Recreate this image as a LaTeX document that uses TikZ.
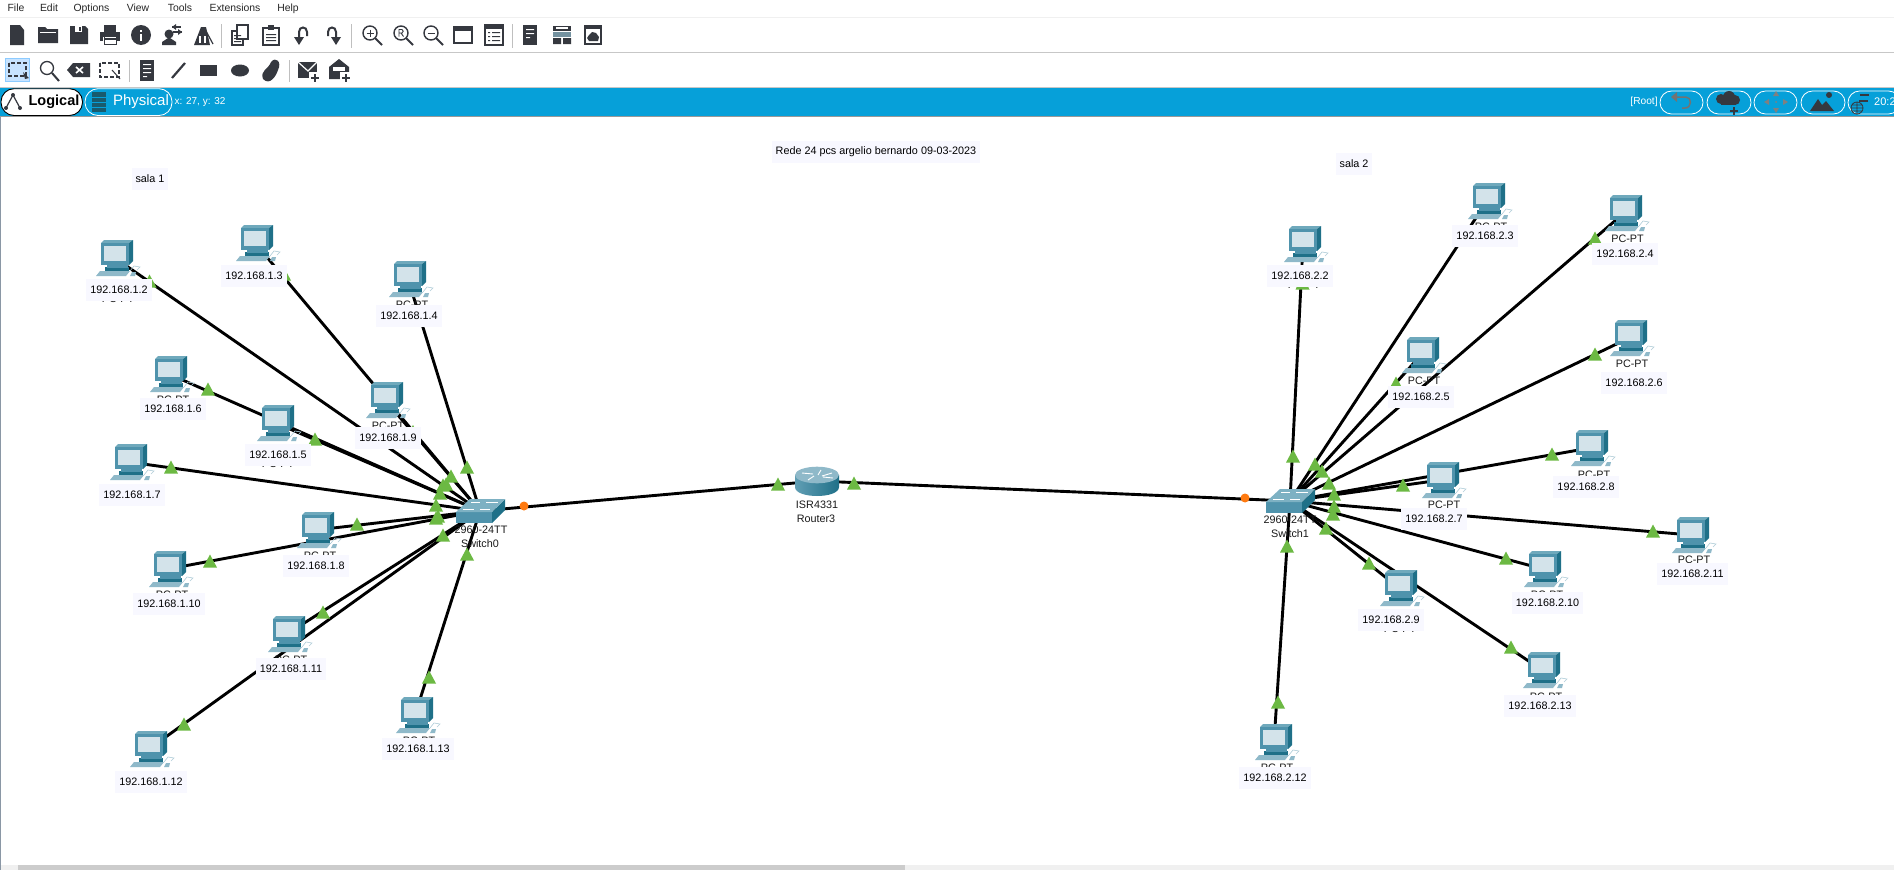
\documentclass[tikz,border=0pt]{standalone}
\usepackage{fontspec}
\setmainfont{Liberation Sans}
\definecolor{ic}{HTML}{35383F}
\definecolor{barblue}{HTML}{06A0D9}
\definecolor{lblbg}{HTML}{F8F8FF}
\definecolor{trig}{HTML}{6CB943}
\definecolor{orng}{HTML}{FF7A10}
\definecolor{mfront}{HTML}{4F93AC}
\definecolor{mside}{HTML}{1F7088}
\definecolor{mtop}{HTML}{6FA9BC}
\definecolor{mscr}{HTML}{D3E3EA}
\definecolor{kbd}{HTML}{8FB9C9}
\definecolor{frameg}{HTML}{8A97A5}
\tikzset{
 link/.style={black,line width=2.9pt},
 iplabel/.style={fill=lblbg,text=black,inner xsep=4pt,inner ysep=0pt,minimum height=22pt,font=\fontsize{10.8}{12}\selectfont},
 devtext/.style={inner sep=0pt,text=black!90,font=\fontsize{10.8}{12}\selectfont},
 menuitem/.style={inner sep=0pt,anchor=base,text=black!85,font=\fontsize{10.4}{12}\selectfont},
 hub/.style={inner sep=0pt,minimum size=0pt},
 sep/.style={black!25,line width=.8pt},
 capsule/.style={draw=white,line width=.8pt,rounded corners=11.5pt},
 tri/.pic={\fill[trig] (-7,6.5)--(0,-6.5)--(7,6.5)--cycle;},
 pcicon/.pic={
  \fill[kbd] (-5,36)--(-1,31)--(29,31)--(25,36)--cycle;
  \fill[mside] (4,27)--(28,27)--(28,31)--(4,31)--cycle;
  \fill[mfront] (6,24)--(27,24)--(27,28)--(6,28)--cycle;
  \fill[mtop] (0,3)--(3,0)--(32,0)--(28,3)--cycle;
  \fill[mside] (28,3)--(32,0)--(32,21)--(28,25)--cycle;
  \fill[mfront] (0,3) rectangle (28,25);
  \fill[mscr] (3,5.5) rectangle (25,21);
  \draw[kbd!70,line width=.6pt] (29,31)--(33,26)--(39,27)--(36,30);
  \fill[kbd] (29,36)--(31,32)--(35,32)--(34,36)--cycle;
 },
 switchicon/.pic={
  \fill[mside] (36,13)--(49,0)--(49,11)--(36,24)--cycle;
  \fill[mfront] (0,13) rectangle (36,24);
  \fill[mtop!90!white] (0,13)--(14,0)--(49,0)--(36,13)--cycle;
  \draw[white,line width=.7pt] (15,3)--(24,3) (30,3)--(42,3) (7,10)--(18,10) (24,10)--(34,10);
 },
 routericon/.pic={
  \shade[left color=mfront!90,middle color=white!85!mfront,right color=mside] (-22,-6)--(-22,6) .. controls (-22,18) and (22,18) .. (22,6)--(22,-6)--cycle;
  \fill[kbd] (0,-6) ellipse (22 and 8.3);
  \draw[white,line width=.9pt] (-15,-8)--(-4,-7) (15,-8)--(5,-5) (-9,-1)--(-3,-5) (4,-11)--(1,-6) (6,-4)--(16,-3);
 },
}
\begin{document}
\begin{tikzpicture}[x=1pt,y=-1pt]
\useasboundingbox (0,0) rectangle (1894,870);
\path[clip] (0,0) rectangle (1894,870);
\fill[white] (0,0) rectangle (1894,870);

% ---- menu bar
\draw[black!6,line width=1pt] (0,17.5)--(1894,17.5);
\foreach \mtxt/\mxp in {File/16,Edit/49,Options/91.5,View/138,Tools/180,Extensions/235,Help/288}
  \node[menuitem] (menu\mtxt) at (\mxp,12) {\mtxt};

% ---- toolbar row 1
\begin{scope}[shift={(17,35)}]
 \fill[ic] (-7,-10)--(3,-10)--(7,-5)--(7,10)--(-7,10)--cycle;
\end{scope}
\begin{scope}[shift={(48,35)}]
 \fill[ic] (-10,-8)--(-3,-8)--(-1,-6)--(10,-6)--(10,8)--(-10,8)--cycle;
 \fill[white] (-8,-3) rectangle (8,-2);
\end{scope}
\begin{scope}[shift={(79,35)}]
 \fill[ic] (-9,-9)--(6,-9)--(9,-6)--(9,9)--(-9,9)--cycle;
 \fill[white] (-4,-9) rectangle (3,-3);
 \fill[ic] (0,-8) rectangle (2,-4);
\end{scope}
\begin{scope}[shift={(110,35)}]
 \fill[ic] (-6,-10) rectangle (6,-3);
 \fill[ic] (-10,-3) rectangle (10,6);
 \fill[white] (-7,2) rectangle (7,10);
 \fill[ic] (-6,3) rectangle (6,4.5);
 \draw[ic,line width=1pt] (-6,2)--(-6,9.5)--(6,9.5)--(6,2);
\end{scope}
\begin{scope}[shift={(141,35)}]
 \fill[ic] (0,0) circle (10);
 \fill[white] (-1,-1) rectangle (1,5.5);
 \fill[white] (-1,-5) rectangle (1,-3);
\end{scope}
\begin{scope}[shift={(172,35)}]
 \fill[ic] (-3,-1) circle (4.5);
 \fill[ic] (-10,10)--(-10,7)--(-4,3)--(-2,3)--(4,7)--(4,10)--cycle;
 \draw[ic,line width=1.2pt] (0,-8)--(9,-8) (1,-3)--(10,-3);
 \fill[ic] (4,-11)--(0,-8)--(4,-5)--cycle;
 \fill[ic] (6,-6)--(10,-3)--(6,0)--cycle;
\end{scope}
\begin{scope}[shift={(203,35)}]
 \fill[ic] (-9,10)--(-2,-8)--(3,-8)--(7,10)--cycle;
 \fill[white] (-4,1) rectangle (-2,8);
 \fill[white] (1,1) rectangle (2.5,8);
 \draw[ic,line width=1.2pt] (3,-4)--(10,9);
\end{scope}
\draw[sep] (221,24)--(221,48);
\begin{scope}[shift={(240,35)}]
 \draw[ic,line width=1.3pt] (-8,-4) rectangle (3,10);
 \fill[white] (-3,-10) rectangle (8,4);
 \draw[ic,line width=1.3pt] (-3,-10) rectangle (8,4);
 \fill[ic] (-6,0) rectangle (1,1) (-6,3) rectangle (1,4) (-6,6) rectangle (1,7);
\end{scope}
\begin{scope}[shift={(271,35)}]
 \draw[ic,line width=1.3pt] (-8,-7) rectangle (8,10);
 \fill[ic] (-3,-10) rectangle (3,-5);
 \fill[ic] (-5,-1) rectangle (5,0) (-5,2) rectangle (5,3) (-5,5) rectangle (5,6);
\end{scope}
\begin{scope}[shift={(302,35)}]
 \draw[ic,line width=2pt] (-3,4)--(-3,-3) .. controls (-3,-9) and (5,-9) .. (5,-3)--(5,1);
 \fill[ic] (-8,2)--(2,2)--(-3,10)--cycle;
\end{scope}
\begin{scope}[shift={(333,35)}]
 \draw[ic,line width=2pt] (3,4)--(3,-3) .. controls (3,-9) and (-5,-9) .. (-5,-3)--(-5,1);
 \fill[ic] (-2,2)--(8,2)--(3,10)--cycle;
\end{scope}
\draw[sep] (351,24)--(351,48);
\foreach \zx/\zk in {370/0,401/1,431/2}{
 \begin{scope}[shift={(\zx,33)}]
  \draw[ic,line width=1.4pt] (0,0) circle (7);
  \draw[ic,line width=2pt] (5,5)--(12,12);
  \ifnum\zk=0 \draw[ic,line width=1pt] (0,-3.5)--(0,3.5) (-3.5,0)--(3.5,0);\fi
  \ifnum\zk=1 \draw[ic,line width=.9pt] (-2,3.5)--(-2,-3.5)--(1,-3.5)--(2.2,-1.8)--(1,0)--(-2,0) (0,0)--(2.5,3.5);\fi
  \ifnum\zk=2 \draw[ic,line width=1pt] (-3.5,0)--(3.5,0);\fi
 \end{scope}}
\begin{scope}[shift={(463,35)}]
 \draw[ic,line width=1.4pt] (-9,-8) rectangle (9,8);
 \fill[ic] (-9,-8) rectangle (9,-4);
\end{scope}
\begin{scope}[shift={(494,35)}]
 \draw[ic,line width=1.4pt] (-9,-10) rectangle (9,10);
 \fill[ic] (-9,-10) rectangle (9,-6);
 \fill[ic] (-6,-3) rectangle (-4,-2) (-2,-3) rectangle (6,-2) (-6,1) rectangle (-4,2) (-2,1) rectangle (6,2) (-6,5) rectangle (-4,6) (-2,5) rectangle (6,6);
\end{scope}
\draw[sep] (512.5,24)--(512.5,48);
\begin{scope}[shift={(530,35)}]
 \fill[ic] (-7,-10) rectangle (7,10);
 \fill[white] (-4,-6) rectangle (4,-5) (-4,-2) rectangle (4,-1) (-4,2) rectangle (0,3);
\end{scope}
\begin{scope}[shift={(562,35)}]
 \fill[ic] (-9,-9) rectangle (9,-4);
 \fill[kbd!70!ic] (-9,-3) rectangle (9,2);
 \fill[ic] (-9,3) rectangle (-1,9) (1,3) rectangle (9,9);
 \fill[white] (-6,-8) rectangle (6,-6);
\end{scope}
\begin{scope}[shift={(593,35)}]
 \fill[ic] (-9,-10) rectangle (9,10);
 \fill[white] (-7,-6) rectangle (7,8);
 \fill[ic] (-4,6)--(-6,3)--(-4,0)--(-1,-3)--(3,-2)--(6,2)--(5,6)--cycle;
\end{scope}

\draw[black!22,line width=1pt] (0,52)--(1894,52);

% ---- toolbar row 2
\fill[blue!50!cyan!22,draw=blue!45!cyan!45] (5.5,58.5) rectangle (29.5,81.5);
\draw[ic,line width=1.3pt,dash pattern=on 4pt off 2pt] (9,63) rectangle (26,76);
\fill[ic] (23,72)--(29,78)--(25,79)--cycle;
\begin{scope}[shift={(48,70)}]
 \draw[ic,line width=1.3pt] (-1,-2) circle (6.5);
 \draw[ic,line width=2pt] (4,3)--(11,11);
\end{scope}
\begin{scope}[shift={(79,70)}]
 \fill[ic] (-12,0)--(-6,-7)--(11,-7)--(11,7)--(-6,7)--cycle;
 \draw[white,line width=1.6pt] (-3,-3)--(4,3) (-3,3)--(4,-3);
\end{scope}
\begin{scope}[shift={(110,70)}]
 \draw[ic,line width=1.2pt,dash pattern=on 4pt off 2pt] (-10,-7) rectangle (9,7);
 \draw[ic,line width=1pt] (2,0)--(10,9);
\end{scope}
\draw[sep] (129,60)--(129,82);
\begin{scope}[shift={(147,70)}]
 \fill[ic] (-7,-10) rectangle (7,11);
 \fill[white] (-4,-6) rectangle (4,-5) (-4,-2) rectangle (4,-1) (-4,2) rectangle (4,3) (-4,6) rectangle (0,7);
\end{scope}
\draw[ic,line width=2.2pt] (172,78)--(185,63);
\fill[ic] (200,65) rectangle (217,76);
\fill[ic] (240,70.5) ellipse (9 and 6);
\fill[ic] (263,79) .. controls (260,70) and (268,70) .. (271,62) .. controls (276,56) and (282,62) .. (278,70) .. controls (276,76) and (270,86) .. (263,79) -- cycle;
\draw[sep] (289,60)--(289,82);
\begin{scope}[shift={(308,70)}]
 \fill[ic] (-10,-8) rectangle (9,8);
 \draw[white,line width=1.2pt] (-10,-8)--(0,1)--(9,-8);
 \fill[white] (1,2) rectangle (12,13);
 \draw[ic,line width=2pt] (7,4)--(7,12) (3,8)--(11,8);
\end{scope}
\begin{scope}[shift={(339,70)}]
 \fill[ic] (-10,-3)--(0,-11)--(10,-3)--(10,9)--(-10,9)--cycle;
 \fill[white] (-6,-3) rectangle (6,1);
 \fill[white] (1,2) rectangle (12,13);
 \draw[ic,line width=2pt] (7,4)--(7,12) (3,8)--(11,8);
\end{scope}

\draw[black!22,line width=1pt] (0,87.2)--(1894,87.2);

% ---- blue bar
\fill[barblue] (0,88) rectangle (1894,116);
\fill[black!40] (0,116) rectangle (1894,117);
\draw[black,fill=white,line width=.9pt,rounded corners=13pt] (1,88.7) rectangle (82.5,115.5);
\draw[ic,line width=1.2pt] (6,108)--(13,95)--(20,108);
\fill[ic] (6,108) circle (2) (13,95) circle (2) (20,108) circle (2);
\node[inner sep=0pt,font=\fontsize{14.5}{16}\bfseries\selectfont] (tabLogical) at (54,102) {Logical};
\draw[white,line width=.8pt,rounded corners=13pt] (85,88.7) rectangle (172,115.5);
\fill[mside!80!black] (92,92) rectangle (106,112);
\draw[barblue,line width=.7pt] (92,97)--(106,97) (92,102)--(106,102) (92,107)--(106,107);
\node[inner sep=0pt,text=white,font=\fontsize{15}{16}\selectfont] (tabPhysical) at (141,102) {Physical};
\node[inner sep=0pt,text=white,font=\fontsize{10}{12}\selectfont] (coords) at (200,102) {x: 27, y: 32};
\node[inner sep=0pt,text=white,font=\fontsize{10.2}{12}\selectfont] (rootlbl) at (1644,102) {[Root]};
\foreach \cx/\cxb in {1660/1703,1707/1751,1754/1797,1801/1845,1848/1900}
  \draw[capsule] (\cx,91) rectangle (\cxb,114);
\begin{scope}[shift={(1682,102)}]
 \draw[black!55,line width=1.5pt] (-9,-5)--(4,-5) .. controls (10,-5) and (10,6) .. (3,6)--(0,6);
 \fill[black!55] (-11,-5)--(-5,-10)--(-5,0)--cycle;
\end{scope}
\begin{scope}[shift={(1729,103)}]
 \fill[ic] (-8,-4) circle (5) (0,-6) circle (6) (6,-3) circle (5);
 \fill[ic] (-8,-3) rectangle (7,2);
 \draw[ic,line width=1.6pt] (5,4)--(5,12) (1,8)--(9,8);
\end{scope}
\begin{scope}[shift={(1776,102)}]
 \fill[black!50] (-3,-6)--(3,-6)--(0,-11)--cycle (-3,6)--(3,6)--(0,11)--cycle (-7,-3)--(-7,3)--(-12,0)--cycle (7,-3)--(7,3)--(12,0)--cycle;
 \fill[black!50] (0,0) circle (1);
\end{scope}
\begin{scope}[shift={(1823,103)}]
 \fill[ic] (-13,8)--(-5,-4)--(-1,2)--(3,-2)--(11,8)--cycle;
 \fill[ic] (6,-8) circle (3);
\end{scope}
\begin{scope}[shift={(1857,108)}]
 \draw[ic,line width=.8pt] (0,0) circle (6) (-6,0)--(6,0) (0,-6)--(0,6) (-5,-3)--(5,-3) (-5,3)--(5,3);
 \draw[ic,line width=1.1pt] (3,-13)--(12,-13) (2,-7)--(11,-7);
\end{scope}
\node[inner sep=0pt,anchor=west,text=white,font=\fontsize{11}{12}\selectfont] (clock) at (1874,102) {20:2};

% ---- canvas frame and scrollbar
\fill[frameg] (0,117) rectangle (1,870);
\fill[black!6] (1,865) rectangle (1894,870);
\fill[black!20] (18,865) rectangle (905,870);

% ---- hubs
\node[hub] (sw0) at (480,511) {};
\node[hub] (sw1) at (1290,501) {};
\node[hub] (rt) at (817,481) {};

% ---- links
\draw[link] (sw0) -- (rt);
\draw[link] (rt) -- (sw1);
\foreach \n/\mx/\my in {a2/101/240,a3/241/225,a4/394/261,a5/262/405,a6/155/356,a7/115/444,a8/302/512,a9/371/382,a10/154/551,a11/273/616,a12/135/731,a13/401/697}{
  \coordinate (pc\n) at (\mx+14,\my+18);
  \draw[link] (pc\n) -- (sw0);
}
\foreach \n/\mx/\my in {b2/1289/226,b3/1473/183,b4/1610/195,b5/1407/337,b6/1615/320,b7/1427/462,b8/1576/430,b9/1385/570,b10/1529/551,b11/1677/517,b12/1260/724,b13/1528/652}{
  \coordinate (pc\n) at (\mx+14,\my+18);
  \draw[link] (pc\n) -- (sw1);
}

% ---- devices
\foreach \mx/\my in {101/240,241/225,394/261,262/405,155/356,115/444,302/512,371/382,154/551,273/616,135/731,401/697,1289/226,1473/183,1610/195,1407/337,1615/320,1427/462,1576/430,1385/570,1529/551,1677/517,1260/724,1528/652}
  \pic at (\mx,\my) {pcicon};
\pic at (456,499) {switchicon};
\pic at (1266,489) {switchicon};
\pic at (817,481) {routericon};

% ---- device names
\node[devtext] (sw0m) at (481,530) {2960-24TT};
\node[devtext] (sw0n) at (480,544) {Switch0};
\node[devtext] (sw1m) at (1290,520) {2960-24TT};
\node[devtext] (sw1n) at (1290,534) {Switch1};
\node[devtext] (rtm) at (817,505) {ISR4331};
\node[devtext] (rtn) at (816,519) {Router3};
\foreach \n/\x/\y in {a4/412/305,a6/173/400,a9/388/426,a2/118/299,a5/278/464,a8/320/556,a10/172/595,a11/291/660,a13/419/741,b2/1304/285,b3/1491/227,b4/1627.5/239,b5/1424/381,b6/1632/364,b7/1444/505,b8/1594/475,b9/1400/629,b10/1547/595,b11/1694/560,b12/1277/768,b13/1546/697}
  \node[devtext] (name\n) at (\x,\y) {PC-PT};

% ---- link lights
\fill[orng] (524,506) circle (4.5);
\fill[orng] (1245,498) circle (4.5);
\foreach \x/\y in {778/484,854/483,
  149.5/281,284/274,413/431.5,208/389,315/439,171/467,357/524,210/561,323/612,184/724,429/677,
  467/467,451/476,443/485,440/493,436/505,436/518,443/535,467/554,446/484,438/516,
  1302.5/283,1595/238,1396/383,1595/354,1552/454,1403/485,1653/531,1506/558,1369/563,1511/647,1278/702,
  1293/456,1315/464,1322/471,1329/483,1334/494,1334/506,1333/514,1326/528,1287/546}
  \pic at (\x,\y) {tri};

% ---- ip labels and notes
\foreach \n/\x/\y/\t in {a2/119/290/192.168.1.2,a3/254/276/192.168.1.3,a4/409/316/192.168.1.4,a5/278/455/192.168.1.5,a6/173/409/192.168.1.6,a7/132/495/192.168.1.7,a8/316/566/192.168.1.8,a9/388/438/192.168.1.9,a10/169/604/192.168.1.10,a11/291/669/192.168.1.11,a12/151/782/192.168.1.12,a13/418/749/192.168.1.13,
  b2/1300/276/192.168.2.2,b3/1485/236/192.168.2.3,b4/1625/254/192.168.2.4,b5/1421/397/192.168.2.5,b6/1634/383/192.168.2.6,b7/1434/519/192.168.2.7,b8/1586/487/192.168.2.8,b9/1391/620/192.168.2.9,b10/1547.5/603/192.168.2.10,b11/1692.5/574/192.168.2.11,b12/1275/778/192.168.2.12,b13/1540/706/192.168.2.13}
  \node[iplabel] (ip\n) at (\x,\y) {\t};
\node[iplabel] (title) at (876,152) {Rede 24 pcs argelio bernardo 09-03-2023};
\node[iplabel] (sala1) at (150,179) {sala 1};
\node[iplabel] (sala2) at (1354,164) {sala 2};
\end{tikzpicture}
\end{document}
